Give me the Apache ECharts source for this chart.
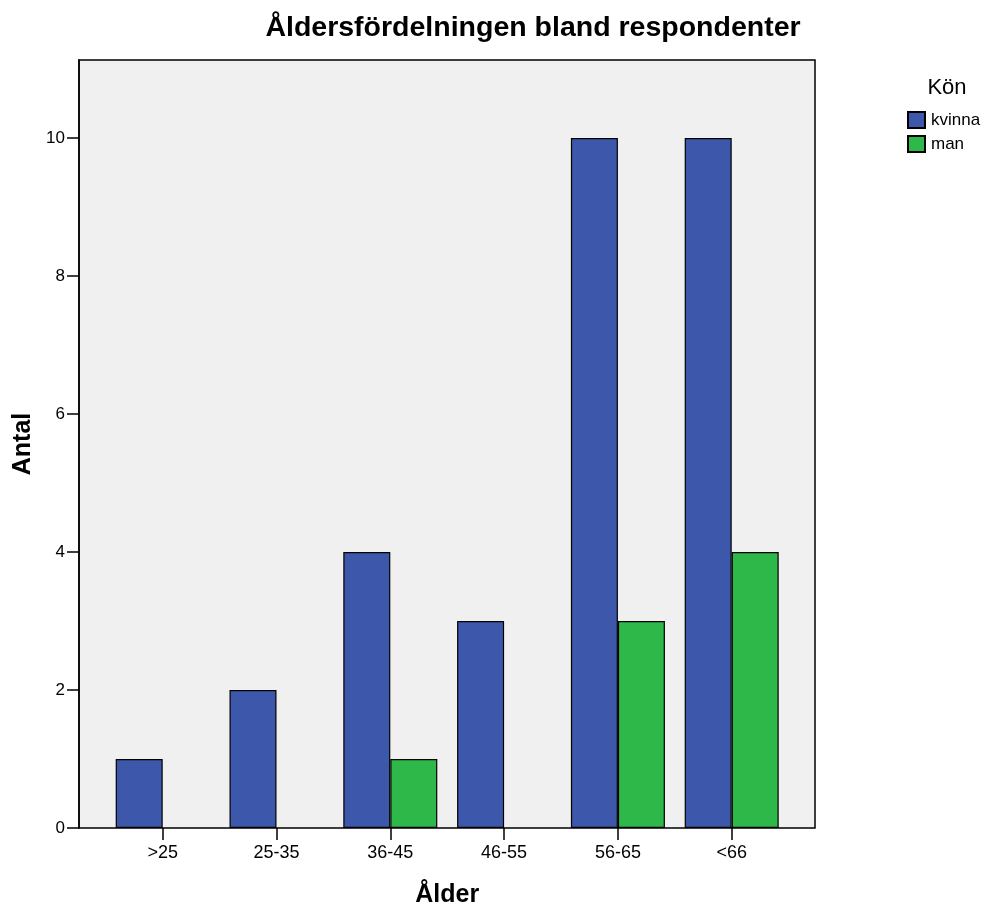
<!DOCTYPE html>
<html>
<head>
<meta charset="utf-8">
<script src="https://cdn.jsdelivr.net/npm/echarts@6/dist/echarts.min.js"></script>
<style>html,body{margin:0;padding:0;background:#fff;}#c{width:987px;height:906px;}</style>
</head>
<body>
<div id="c"></div>
<script>
const categories = ['>25', '25-35', '36-45', '46-55', '56-65', '<66'];
const kvinna = [1, 2, 4, 3, 10, 10];
const man = [null, null, 1, null, 3, 4];
const yTicks = [0, 2, 4, 6, 8, 10];

const chart = echarts.init(document.getElementById('c'));
const FONT = 'Liberation Sans, Arial, sans-serif';
const YMAX = 11.13;
chart.setOption({
  animation: false,
  textStyle: { fontFamily: FONT },
  title: [
    { text: 'Åldersfördelningen bland respondenter', left: 528, top: 9, textAlign: 'center',
      textStyle: { fontSize: 28.5, fontWeight: 'bold', color: '#000', fontFamily: FONT } },
    { text: 'Kön', left: 942, top: 72, textAlign: 'center',
      textStyle: { fontSize: 22, fontWeight: 'normal', color: '#000', fontFamily: FONT } }
  ],
  legend: {
    orient: 'vertical', left: 902, top: 106, itemWidth: 17, itemHeight: 16, itemGap: 6,
    icon: 'rect', textStyle: { fontSize: 17, color: '#000', padding: [0, 0, 0, 1] },
    data: ['kvinna', 'man']
  },
  grid: [
    { left: 79, top: 60, width: 736, height: 768, show: true, backgroundColor: '#f0f0f0',
      borderColor: '#000', borderWidth: 1.5, containLabel: false, outerBoundsMode: 'none' },
    { left: 105.8, top: 60, width: 682.8, height: 768, containLabel: false, outerBoundsMode: 'none' }
  ],
  xAxis: [
    { gridIndex: 0, type: 'value', min: 0, max: 1, show: false },
    { gridIndex: 1, type: 'category', data: categories,
      axisLine: { show: false },
      axisTick: { show: true, alignWithLabel: true, length: 12, lineStyle: { color: '#000', width: 1.5 } },
      axisLabel: { color: '#000', fontSize: 18, margin: 16 },
      name: 'Ålder', nameLocation: 'middle', nameGap: 55,
      nameTextStyle: { fontSize: 25, fontWeight: 'bold', color: '#000' } }
  ],
  yAxis: [
    { gridIndex: 0, type: 'value', min: 0, max: YMAX, interval: 2,
      axisLine: { show: true, lineStyle: { color: '#000', width: 1.5 } },
      axisTick: { show: true, length: 12, lineStyle: { color: '#000', width: 1.5 } },
      splitLine: { show: false },
      axisLabel: { color: '#000', fontSize: 17, margin: 14, showMaxLabel: false,
        formatter: v => yTicks.includes(v) ? String(v) : '' },
      name: 'Antal', nameLocation: 'middle', nameGap: 42, nameRotate: 90,
      nameTextStyle: { fontSize: 25, fontWeight: 'bold', color: '#000' } },
    { gridIndex: 1, type: 'value', min: 0, max: YMAX, show: false }
  ],
  series: [
    { name: 'kvinna', type: 'bar', xAxisIndex: 1, yAxisIndex: 1, data: kvinna,
      barWidth: 47, barGap: '0%',
      itemStyle: { color: '#3d58ab', borderColor: '#000', borderWidth: 1.2 } },
    { name: 'man', type: 'bar', xAxisIndex: 1, yAxisIndex: 1, data: man,
      barWidth: 47, barGap: '0%',
      itemStyle: { color: '#2fb84a', borderColor: '#000', borderWidth: 1.2 } }
  ]
});
</script>
</body>
</html>
